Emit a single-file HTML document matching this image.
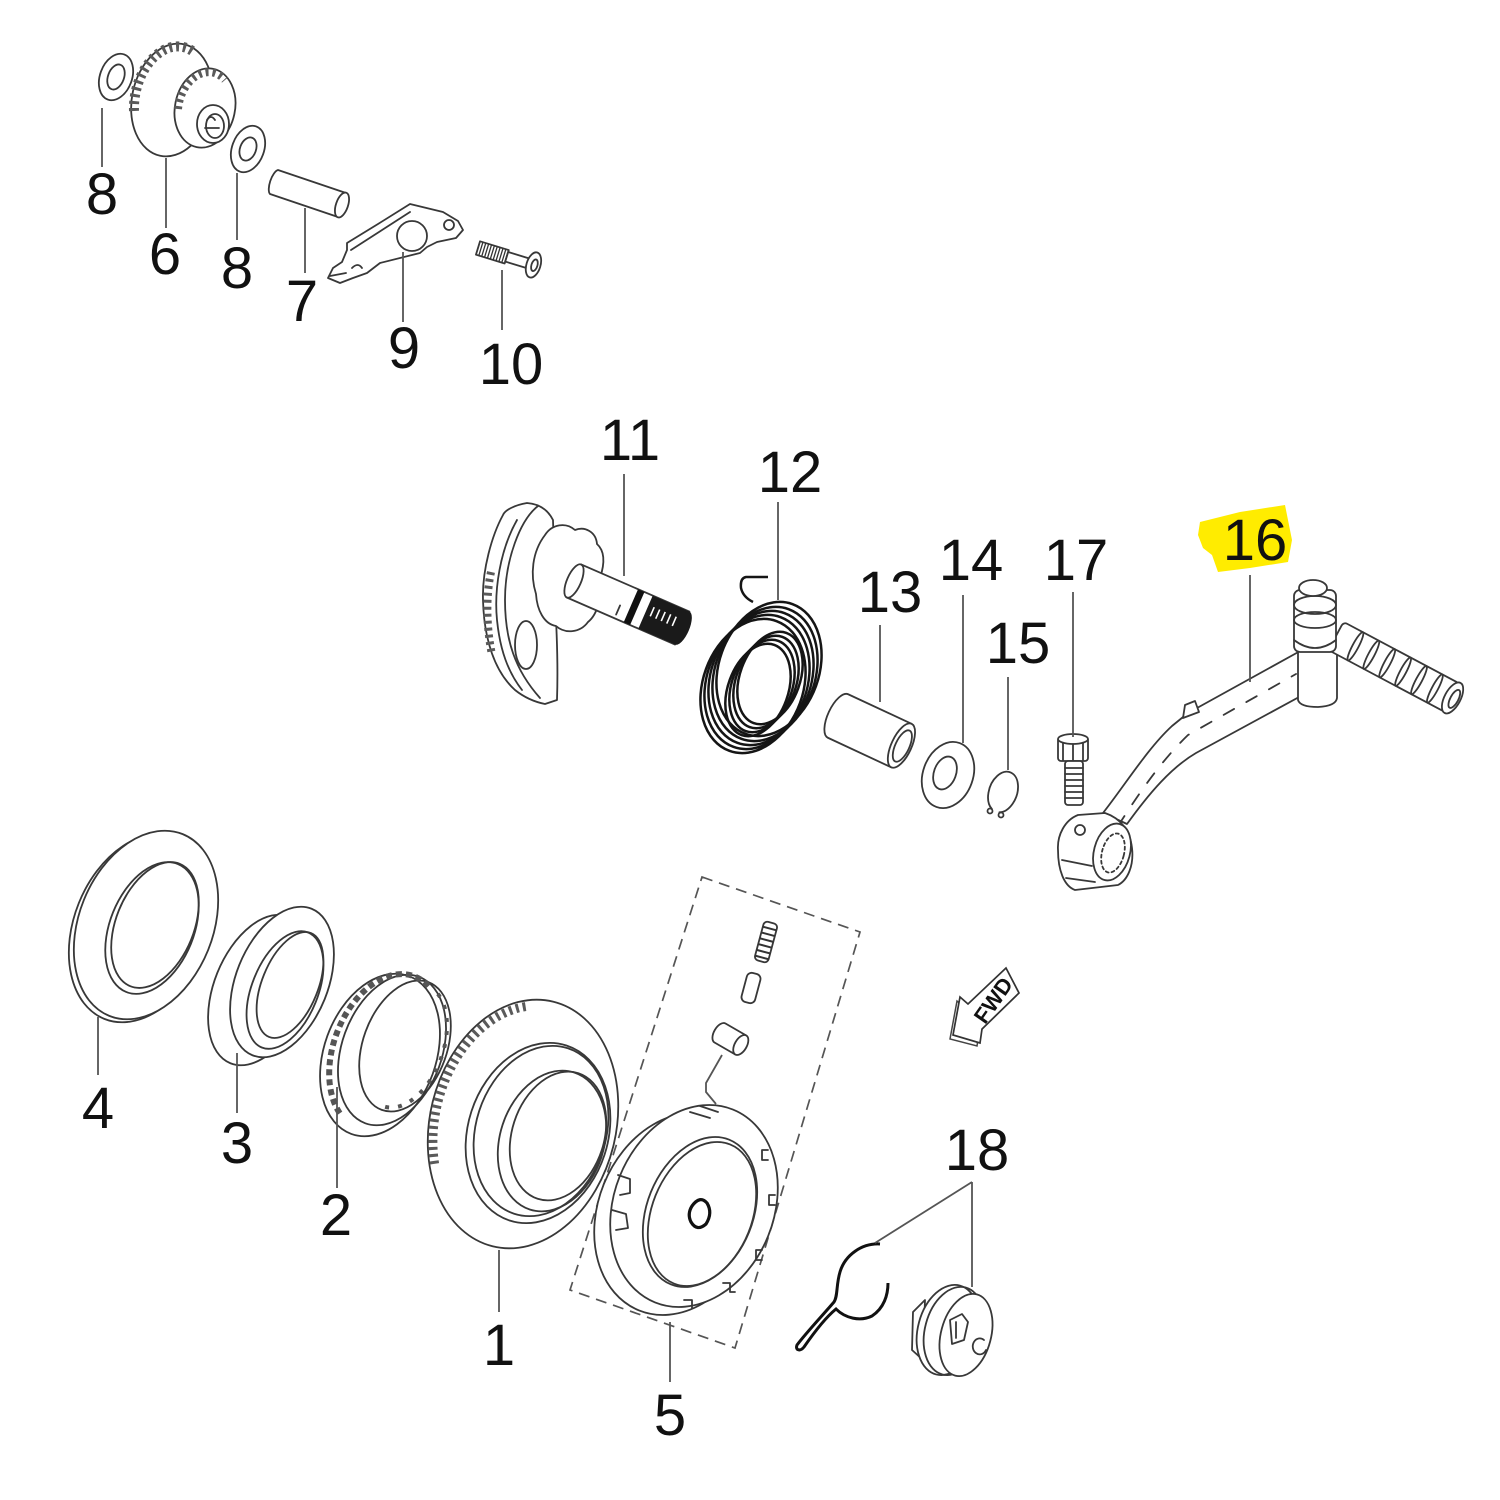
<!DOCTYPE html>
<html><head><meta charset="utf-8"><style>
html,body{margin:0;padding:0;background:#fff;}
svg{display:block;}
.s{fill:none;stroke:#383838;stroke-width:1.8;stroke-linejoin:round;stroke-linecap:round}
.w{fill:#fff;stroke:#383838;stroke-width:1.8;stroke-linejoin:round}
.k{fill:none;stroke:#151515;stroke-width:2.5}
.ld{stroke:#555;stroke-width:1.8;fill:none}
.t{font-family:"Liberation Sans",Arial,sans-serif;font-size:58px;fill:#111;text-anchor:middle}
.tooth{fill:none;stroke:#5a5a5a;stroke-dasharray:3 4}
</style></head><body>
<svg width="1500" height="1500" viewBox="0 0 1500 1500" xmlns="http://www.w3.org/2000/svg">
<rect width="1500" height="1500" fill="#fff"/>

<!-- ===== TOP GROUP ===== -->
<ellipse class="w" cx="116" cy="77" rx="16" ry="24" transform="rotate(20 116 77)"/>
<ellipse class="s" cx="116" cy="77" rx="8" ry="13" transform="rotate(20 116 77)"/>
<ellipse class="w" cx="172" cy="100" rx="40" ry="57" transform="rotate(12 172 100)"/>
<path class="tooth" stroke-width="10" d="M134,111 A37,54,12,0,1,195,53"/>
<ellipse class="w" cx="205" cy="108" rx="30" ry="40" transform="rotate(12 205 108)"/>
<path class="tooth" stroke-width="8" d="M178,109 A27,37,12,0,1,225,80"/>
<ellipse class="w" cx="213" cy="124" rx="16" ry="19"/>
<ellipse class="s" cx="215" cy="126" rx="9" ry="12"/>
<path class="s" d="M207,120 q4,-6 8,0 M205,128 h14"/>
<ellipse class="w" cx="248" cy="149" rx="16" ry="24" transform="rotate(20 248 149)"/>
<ellipse class="s" cx="248" cy="149" rx="8" ry="12" transform="rotate(20 248 149)"/>
<path class="w" d="M278,170 L346,193 L338,217 L270,194 A5,13,19,0,1,278,170 Z"/>
<ellipse class="w" cx="342" cy="205" rx="6" ry="13" transform="rotate(19 342 205)"/>
<path class="w" d="M328,278 L333,268 L342,262 L347,250 L347,243 L378,224 L410,204 L443,212 L458,221 L463,230 L456,238 L437,242 L427,247 L420,253 L380,263 L367,273 L353,278 L340,283 Z"/>
<path class="s" d="M351,250 L410,212 M330,276 L346,273 M352,268 q6,-6 10,0"/>
<circle class="s" cx="412" cy="236" r="15"/>
<circle class="s" cx="449" cy="225" r="5"/>
<g transform="translate(478,248) rotate(17)">
<rect class="w" x="0" y="-7" width="30" height="14"/>
<path d="M3,-7V7M6,-7V7M9,-7V7M12,-7V7M15,-7V7M18,-7V7M21,-7V7M24,-7V7M27,-7V7" stroke="#333" stroke-width="1.3"/>
<rect class="w" x="30" y="-5" width="26" height="10"/>
<ellipse class="w" cx="58" cy="0" rx="7" ry="13"/>
<ellipse class="s" cx="59" cy="0" rx="3" ry="6"/>
</g>

<path class="ld" d="M102,108V167M166,158V228M237,173V240M305,208V273M403,252V322M502,270V330"/>
<text class="t" x="102" y="214">8</text>
<text class="t" x="165" y="274">6</text>
<text class="t" x="237" y="288">8</text>
<text class="t" x="302" y="321">7</text>
<text class="t" x="404" y="368">9</text>
<text class="t" x="511" y="384">10</text>

<!-- ===== MIDDLE GROUP ===== -->
<path class="w" d="M527,503 C515,505 505,510 503,515 C492,535 482,570 483,600 C484,640 495,672 515,690 C525,698 535,702 545,704 L557,700 C558,670 557,640 556,620 L553,520 C548,510 540,504 527,503 Z"/>
<path class="s" d="M538,506 C520,520 505,560 505,600 C505,640 515,670 540,698"/>
<path class="s" d="M517,520 C500,550 494,590 497,620 C500,650 508,672 522,690"/>
<ellipse class="s" cx="526" cy="645" rx="11" ry="24"/>
<path class="tooth" stroke-width="8" d="M491,572 C486,595 486,625 492,655"/>
<path class="w" d="M545,535 C552,524 566,522 575,530 C585,526 596,532 597,544 C606,552 604,566 600,578 C602,596 598,614 588,622 C580,633 565,634 556,626 C544,624 537,610 536,594 C530,575 532,552 545,535 Z"/>
<g transform="translate(574,581) rotate(23.5)">
<rect class="w" x="0" y="-18" width="118" height="36"/>
<ellipse class="w" cx="0" cy="0" rx="7" ry="18"/>
<path class="s" d="M52,4V14"/>
<rect x="62" y="-18" width="7" height="36" fill="#111"/>
<rect x="78" y="-18" width="40" height="36" fill="#1a1a1a"/>
<path d="M84,-8v10M90,-8v10M96,-8v10M102,-8v10M108,-8v10" stroke="#fff" stroke-width="1.6"/>
<ellipse cx="118" cy="0" rx="7" ry="18" fill="#1a1a1a"/>
</g>

<g class="k">
<ellipse cx="753" cy="686" rx="50" ry="69" transform="rotate(20 753 686)"/>
<ellipse cx="757" cy="682" rx="50" ry="69" transform="rotate(20 757 682)"/>
<ellipse cx="761" cy="678" rx="50" ry="69" transform="rotate(20 761 678)"/>
<ellipse cx="765" cy="674" rx="50" ry="69" transform="rotate(20 765 674)"/>
<ellipse cx="769" cy="669" rx="50" ry="69" transform="rotate(20 769 669)"/>
<ellipse cx="758" cy="690" rx="30" ry="48" transform="rotate(20 758 690)"/>
<ellipse cx="762" cy="686" rx="30" ry="48" transform="rotate(20 762 686)"/>
<ellipse cx="766" cy="682" rx="30" ry="48" transform="rotate(20 766 682)"/>
<ellipse cx="770" cy="678" rx="30" ry="48" transform="rotate(20 770 678)"/>
<path d="M768,577 L746,577 Q740,578 741,588 Q743,597 753,602"/>
</g>

<g transform="translate(838,716) rotate(25)">
<path class="w" d="M0,-24 L70,-24 L70,24 L0,24 A10,24 0 0 1 0,-24 Z"/>
<ellipse class="w" cx="70" cy="0" rx="10" ry="24"/>
<ellipse class="s" cx="71" cy="0" rx="7" ry="17"/>
</g>
<ellipse class="w" cx="948" cy="775" rx="25" ry="34" transform="rotate(20 948 775)"/>
<ellipse class="s" cx="945" cy="773" rx="11" ry="17" transform="rotate(20 945 773)"/>
<path class="s" d="M999.4,812.3 A14,21,20,1,0,991.8,808.9"/>
<circle class="s" cx="1001" cy="815" r="2.5"/>
<circle class="s" cx="990" cy="811" r="2.5"/>
<rect class="w" x="1058" y="737" width="30" height="24" rx="3"/>
<ellipse class="w" cx="1073" cy="739" rx="15" ry="5"/>
<path class="s" d="M1073,744V761M1063,743V760M1083,743V760"/>
<rect class="w" x="1065" y="761" width="18" height="44" rx="3"/>
<path class="s" d="M1065,768H1083M1065,774H1083M1065,780H1083M1065,786H1083M1065,792H1083M1065,798H1083"/>

<path class="w" d="M1103,813 C1125,785 1148,748 1172,726 L1188,713 L1302,650 L1312,690 L1196,753 C1172,767 1150,792 1127,824 Z"/>
<path class="s" stroke-dasharray="12 14" d="M1118,826 C1138,795 1160,762 1188,735 L1296,674"/>
<path class="w" d="M1183,718 L1185,705 L1195,701 L1199,712 Z"/>
<path class="w" d="M1298,648 L1298,700 Q1300,707 1318,707 Q1336,706 1337,698 L1337,640 Z"/>
<g transform="translate(1336,636) rotate(28)">
<rect class="w" x="0" y="-16" width="132" height="32" rx="4"/>
<ellipse class="s" cx="22" cy="0" rx="3" ry="16"/>
<ellipse class="s" cx="40" cy="0" rx="3" ry="16"/>
<ellipse class="s" cx="58" cy="0" rx="3" ry="16"/>
<ellipse class="s" cx="76" cy="0" rx="3" ry="16"/>
<ellipse class="s" cx="94" cy="0" rx="3" ry="16"/>
<ellipse class="s" cx="112" cy="0" rx="3" ry="16"/>
<ellipse class="w" cx="132" cy="0" rx="8" ry="17"/>
<ellipse class="s" cx="134" cy="0" rx="4" ry="10"/>
</g>
<rect class="w" x="1294" y="590" width="42" height="62" rx="6"/>
<ellipse class="w" cx="1315" cy="605" rx="21" ry="9"/>
<ellipse class="s" cx="1315" cy="620" rx="21" ry="8"/>
<path class="s" d="M1294,640 Q1315,656 1336,640"/>
<ellipse class="w" cx="1313" cy="588" rx="14" ry="8"/>
<path class="w" d="M1078,815 C1065,820 1057,835 1058,850 C1058,870 1064,886 1075,890 L1118,885 C1128,880 1134,865 1132,848 C1130,830 1120,818 1105,813 Z"/>
<ellipse class="w" cx="1112" cy="852" rx="18" ry="29" transform="rotate(15 1112 852)"/>
<ellipse class="s" stroke-dasharray="3 3" cx="1113" cy="853" rx="11" ry="20" transform="rotate(15 1113 853)"/>
<circle class="s" cx="1080" cy="830" r="5"/>
<path class="s" d="M1062,860 L1092,866 M1066,878 L1095,882"/>

<path class="ld" d="M624,474V576M778,502V600M880,625V702M963,595V743M1008,677V770M1073,592V737M1250,575V682"/>
<path d="M1200,522 L1240,512 L1285,505 L1292,540 L1288,562 L1250,568 L1218,572 L1212,555 L1203,548 L1198,535 Z" fill="#ffec00"/>
<text class="t" x="630" y="460">11</text>
<text class="t" x="790" y="492">12</text>
<text class="t" x="890" y="612">13</text>
<text class="t" x="971" y="580">14</text>
<text class="t" x="1018" y="663">15</text>
<text class="t" x="1076" y="580">17</text>
<text class="t" x="1255" y="560">16</text>

<!-- ===== BOTTOM GROUP ===== -->
<ellipse class="w" cx="141" cy="928" rx="67" ry="98" transform="rotate(22 141 928)"/>
<ellipse class="w" cx="146" cy="925" rx="67" ry="98" transform="rotate(22 146 925)"/>
<ellipse class="s" cx="152" cy="928" rx="42" ry="69" transform="rotate(22 152 928)"/>
<ellipse class="s" cx="155" cy="925" rx="39" ry="66" transform="rotate(22 155 925)"/>
<ellipse class="w" cx="260" cy="990" rx="46" ry="79" transform="rotate(22 260 990)"/>
<ellipse class="w" cx="282" cy="982" rx="46" ry="79" transform="rotate(22 282 982)"/>
<ellipse class="s" cx="285" cy="990" rx="33" ry="62" transform="rotate(22 285 990)"/>
<ellipse class="s" cx="290" cy="985" rx="28" ry="56" transform="rotate(22 290 985)"/>
<ellipse class="w" cx="380" cy="1055" rx="56" ry="84" transform="rotate(20 380 1055)"/>
<ellipse class="s" cx="392" cy="1050" rx="50" ry="78" transform="rotate(20 392 1050)"/>
<ellipse class="s" cx="405" cy="1046" rx="42" ry="68" transform="rotate(20 405 1046)"/>
<path fill="none" stroke="#555" stroke-width="6" stroke-dasharray="6 4" d="M339.8,1113.3 A53,81,20,0,1,429,986.7"/>
<path fill="none" stroke="#555" stroke-width="4" stroke-dasharray="4 9" d="M437.8,993.9 A38,64,20,0,1,377.3,1103"/>
<ellipse class="w" cx="523" cy="1124" rx="93" ry="126" transform="rotate(14 523 1124)"/>
<path class="tooth" stroke-width="9" d="M434.6,1163.8 A88,120,14,0,1,528.9,1006.1"/>
<ellipse class="w" cx="538" cy="1133" rx="70" ry="92" transform="rotate(18 538 1133)"/>
<ellipse class="s" cx="541" cy="1131" rx="65" ry="87" transform="rotate(18 541 1131)"/>
<ellipse class="s" cx="552" cy="1141" rx="52" ry="72" transform="rotate(18 552 1141)"/>
<ellipse class="s" cx="558" cy="1136" rx="46" ry="66" transform="rotate(18 558 1136)"/>
<path fill="none" stroke="#555" stroke-width="1.7" stroke-dasharray="11 7" d="M702,877 L860,932 L735,1348 L570,1290 Z"/>
<g transform="rotate(15 766 942)">
<rect class="w" x="759" y="922" width="14" height="40" rx="4"/>
<path d="M759,928H773M759,934H773M759,940H773M759,946H773M759,952H773M759,958H773" stroke="#333" stroke-width="2"/>
</g>
<rect class="w" x="744" y="973" width="14" height="30" rx="5" transform="rotate(15 751 988)"/>
<g transform="translate(720,1033) rotate(30)">
<path class="w" d="M0,-11 L24,-11 L24,11 L0,11 A6,11 0 0 1 0,-11 Z"/>
<ellipse class="w" cx="24" cy="0" rx="6" ry="11"/>
</g>
<path class="ld" d="M722,1055 L706,1083 L706,1092 L716,1104"/>
<ellipse class="w" cx="678" cy="1214" rx="80" ry="104" transform="rotate(22 678 1214)"/>
<ellipse class="w" cx="694" cy="1206" rx="80" ry="104" transform="rotate(22 694 1206)"/>
<ellipse class="s" cx="700" cy="1212" rx="53" ry="78" transform="rotate(22 700 1212)"/>
<ellipse class="s" cx="702" cy="1214" rx="50" ry="75" transform="rotate(22 702 1214)"/>
<path class="s" d="M768,1150 h-6 v10 h6 M775,1195 h-6 v10 h6 M762,1250 h-6 v10 h6 M735,1292 h-5 v-9 h-7 M692,1308 v-8 h-8"/>
<path class="s" d="M618,1175 l12,4 v14 l-10,2 M612,1210 l14,4 l2,14 l-12,2 M690,1112 l20,6 M700,1106 l18,6"/>
<path d="M692,1206 q8,-11 15,-3 q6,10 -1,21 q-9,8 -15,-2 q-4,-8 1,-16 z" fill="none" stroke="#111" stroke-width="3.2"/>

<polygon points="950,1039 957,1001 965,1008 1003,971 1016,996 979,1032 977,1046" fill="#fff" stroke="#444" stroke-width="1.5"/>
<polygon points="953,1035 960,997 968,1004 1006,968 1019,993 982,1029 980,1043" fill="#fff" stroke="#333" stroke-width="1.7"/>
<text x="993" y="1008" font-family="Liberation Sans, Arial, sans-serif" font-weight="bold" font-size="22" fill="#111" text-anchor="middle" transform="rotate(-55 993 1000)">FWD</text>

<path d="M880,1244 C862,1243 845,1255 840,1272 C836,1285 838,1296 834,1302 C822,1316 806,1333 797,1345 C795,1350 800,1352 804,1347 C813,1334 825,1318 836,1309 C845,1318 860,1322 872,1316 C884,1308 888,1295 888,1283" fill="none" stroke="#111" stroke-width="3"/>
<path class="w" d="M925,1300 L913,1312 L912,1350 L923,1360 Z"/>
<ellipse class="w" cx="948" cy="1330" rx="30" ry="46" transform="rotate(15 948 1330)"/>
<ellipse class="s" cx="954" cy="1331" rx="29" ry="45" transform="rotate(15 954 1331)"/>
<ellipse class="w" cx="966" cy="1335" rx="25" ry="42" transform="rotate(15 966 1335)"/>
<path class="s" d="M950,1320 l12,-6 l6,8 l-4,18 l-12,4 z M956,1322 v16"/>
<path class="s" d="M984,1340 a7,8 0 1 0 2,10"/>

<path class="ld" d="M98,1017V1075M237,1053V1113M337,1087V1188M499,1250V1312M670,1322V1382M972,1182L875,1243M972,1182V1287"/>
<text class="t" x="98" y="1128">4</text>
<text class="t" x="237" y="1163">3</text>
<text class="t" x="336" y="1235">2</text>
<text class="t" x="499" y="1365">1</text>
<text class="t" x="670" y="1435">5</text>
<text class="t" x="977" y="1170">18</text>
</svg>
</body></html>
